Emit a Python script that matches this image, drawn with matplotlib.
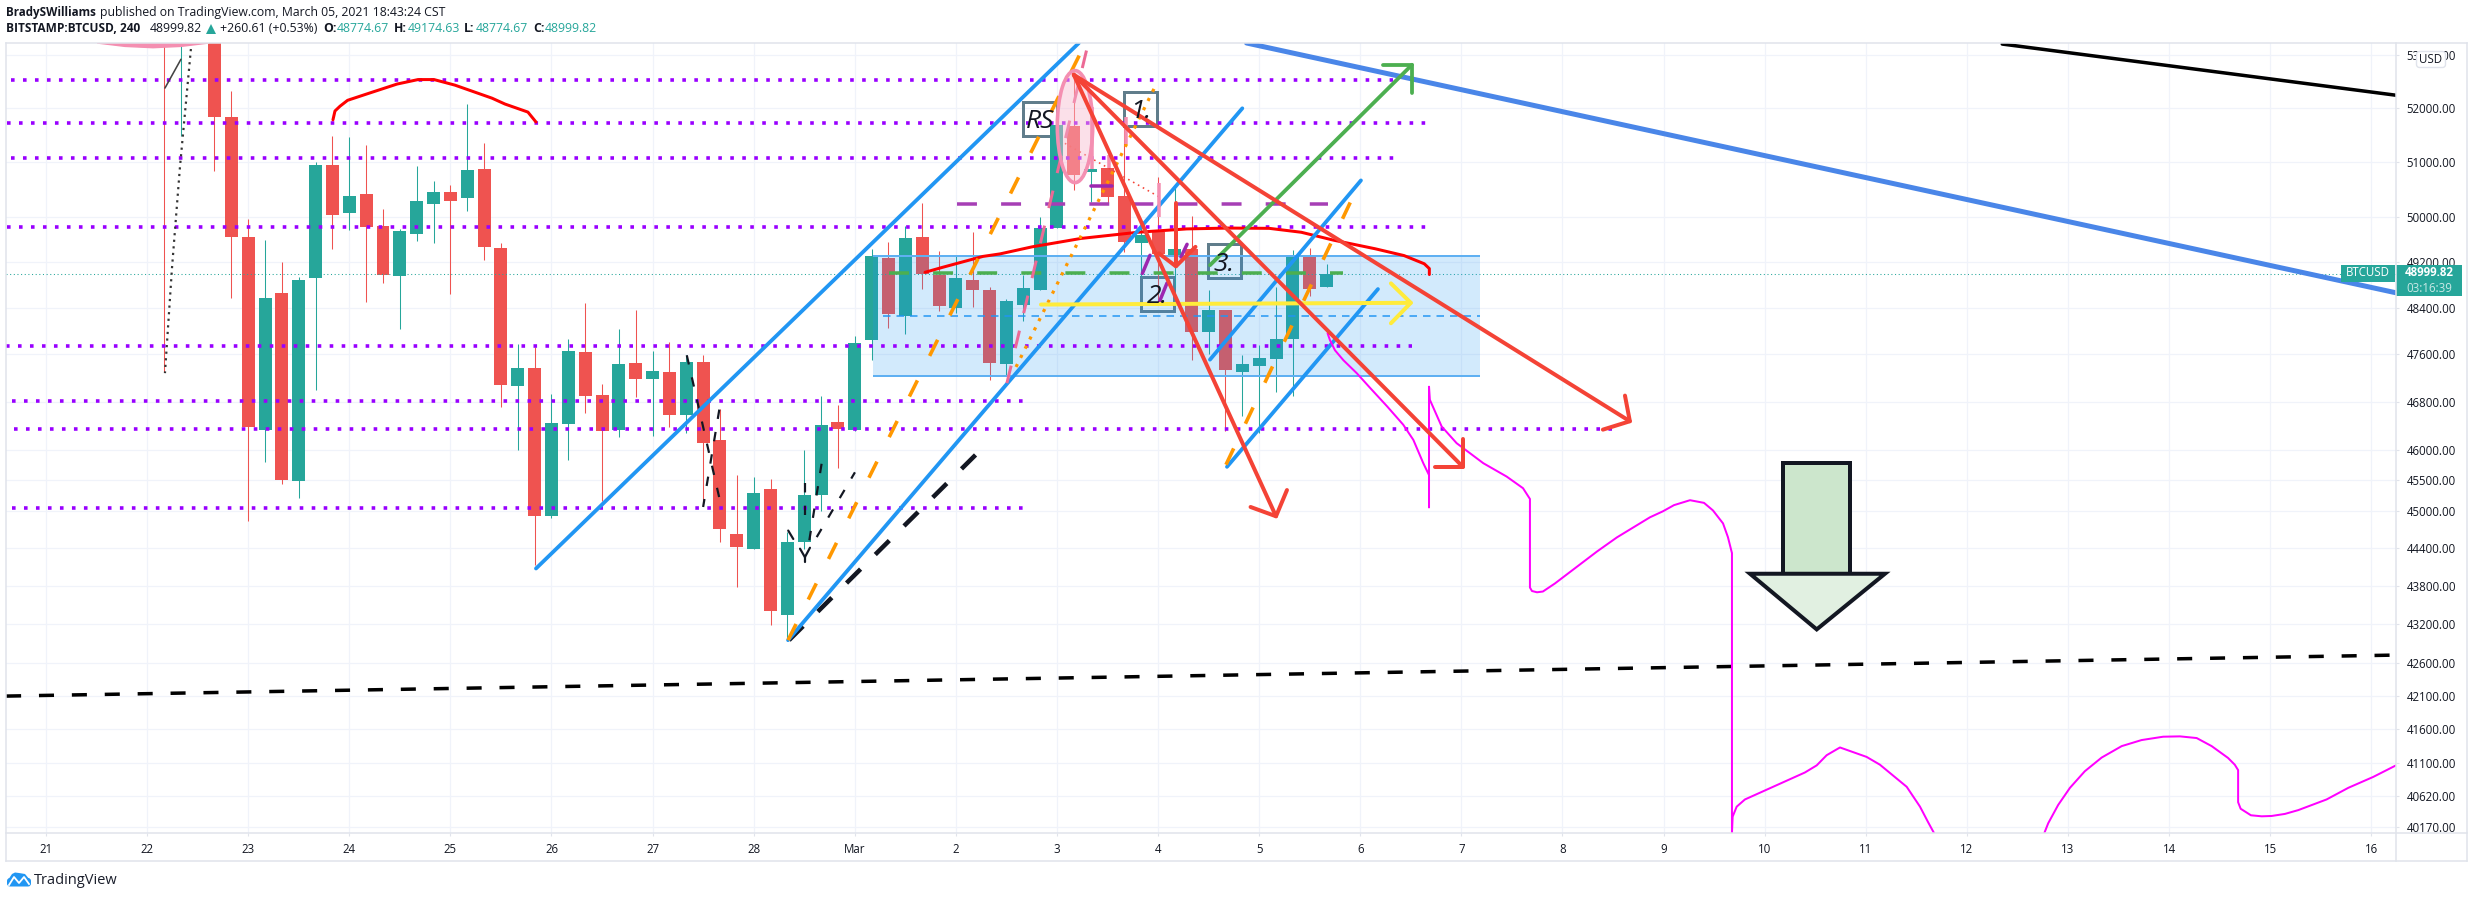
import matplotlib
matplotlib.use("Agg")
import matplotlib.pyplot as plt
from matplotlib.patches import Ellipse, FancyBboxPatch, Polygon, Rectangle
from matplotlib.ticker import NullLocator

plt.rcParams['font.family'] = ['Open Sans', 'DejaVu Sans']

W, H = 2468, 898
UP, DOWN = '#26a69a', '#ef5350'
INK = '#131722'
GRID = '#f0f3fa'
FRAME = '#e0e3eb'

# candles, 4h bars counted from 21 Feb 00:00 (6 a day)
first_bar = 7
opens = [53900, 53400, 53900, 53900, 51840, 49650, 46330, 48660, 45480, 48930, 50950, 50085, 50420, 49845,
         48960, 49705, 50240, 50455, 50350, 50880, 49450, 47065, 47370, 44920, 46430, 47635, 46910, 46330,
         47450, 47180, 47300, 46580, 47470, 46160, 44630, 44385, 45350, 43340, 44490, 45250, 46450, 46330,
         47850, 49285, 48265, 49645, 48985, 48395, 48890, 48720, 47430, 48445, 48720, 49810, 51670, 50820,
         50900, 50385, 49545, 49745, 49290, 49430, 47990, 48370, 47305, 47400, 47515, 47865, 49320, 48775]
highs = [54500, 54000, 54800, 54200, 52325, 49970, 49590, 49215, 48945, 51000, 51480, 51460, 51320, 50160,
         49790, 50930, 50660, 50580, 52080, 51365, 49535, 47785, 47720, 46930, 47860, 48480, 47090, 48030,
         48370, 47650, 47810, 47585, 47585, 46680, 45580, 45545, 45520, 44660, 46000, 46885, 46750, 47910,
         49440, 49560, 49845, 50265, 49410, 49305, 49745, 48770, 48555, 48985, 50010, 51800, 52680, 51290,
         51130, 51650, 49890, 50735, 50525, 50020, 48710, 48370, 47585, 47755, 48770, 49425, 49460, 49175]
lows = [47300, 51490, 53400, 50840, 48580, 44830, 45800, 45440, 45210, 47000, 49430, 49770, 48500, 48845,
        48040, 49580, 49550, 48650, 50120, 49235, 46710, 46000, 44135, 44890, 45830, 46600, 45165, 46200,
        46880, 46230, 46370, 46280, 45110, 44490, 43780, 44385, 43190, 42940, 44390, 45000, 45700, 46300,
        47500, 48050, 47945, 48740, 48350, 48320, 48420, 47160, 47250, 48180, 48710, 49810, 50495, 50280,
        50265, 49375, 48945, 48490, 48770, 47500, 47610, 46300, 46555, 46270, 46965, 46895, 48610, 48775]
closes = [53400, 53900, 54200, 51830, 49650, 46380, 48580, 45500, 48890, 50950, 50040, 50385, 49830, 48980,
          49755, 50295, 50455, 50295, 50860, 49475, 47080, 47370, 44910, 46440, 47650, 46895, 46310, 47435,
          47180, 47320, 46580, 47470, 46115, 44700, 44410, 45285, 43400, 44500, 45250, 46415, 46335, 47790,
          49305, 48300, 49630, 49000, 48430, 48930, 48710, 47450, 48525, 48750, 49810, 51690, 50760, 50880,
          50370, 49555, 49680, 49340, 49440, 47980, 48370, 47325, 47430, 47535, 47860, 49305, 48740, 49000]

price_ticks = [53000, 52000, 51000, 50000, 49200, 48400, 47600, 46800, 46000, 45500, 45000, 44400, 43800,
               43200, 42600, 42100, 41600, 41100, 40620, 40170]
day_ticks = [0, 6, 12, 18, 24, 30, 36, 42, 48, 54, 60, 66, 72, 78, 84, 90, 96, 102, 108, 114, 120, 126, 132, 138]
day_labels = ['21', '22', '23', '24', '25', '26', '27', '28', 'Mar', '2', '3', '4', '5', '6', '7', '8', '9',
              '10', '11', '12', '13', '14', '15', '16']

x_range = (-2.374, 139.47)
y_range = (40079, 53235)
last_price = 49000

# drawings: (price, first bar, last bar)
purple_levels = [(52525, -2.1, 79.95), (51728, -2.3, 82.0), (51085, -2.1, 80.05), (49830, -2.3, 82.0),
                 (47752, -2.4, 81.05), (46810, -2.0, 58.0), (46340, -1.9, 93.3), (45050, -2.0, 58.0)]
purple_dash = (50240, 54.05, 76.1)
green_dash = (49010, 50.05, 77.0)
zone_low, zone_high, zone_mid = 47240, 49305, 48265
zone_start, zone_end = 49.08, 85.1

blue_lines = [([29.08, 61.3], [44075, 53235]), ([44.04, 71.0], [42955, 52000]),
              ([69.08, 78.04], [47510, 50670]), ([70.09, 79.05], [45715, 48730])]
wide_blue_x, wide_blue_y = [71.25, 139.47], [53235, 48665]
black_x, black_y = [116.1, 139.47], [53215, 52245]
long_dash_x, long_dash_y = [-2.37, 139.47], [42100, 42725]
short_dash_x, short_dash_y = [44.1, 55.96], [42955, 46130]
orange_lines = [([44.04, 61.66], [42955, 53215]), ([70.03, 78.04], [45750, 50680])]
pink_dash_x, pink_dash_y = [57.03, 61.78], [47110, 53130]
orange_dot_x, orange_dot_y = [57.57, 65.92], [47385, 52470]
red_dot_x, red_dot_y = [60.47, 66.04], [51350, 50375]
thin_dashes = [([38.03, 40.1], [47585, 45040]), ([39.96, 39.0], [46665, 45060]), ([45.04, 45.04], [45450, 44925]),
               ([46.03, 45.3], [45765, 44520]), ([45.74, 48.01], [44575, 45625])]
thin_marks = [([44.05, 44.35], [44680, 44545]), ([44.75, 45.04, 45.34], [44390, 44255, 44405]),
              ([45.04, 45.04], [44255, 44175])]
corner_line_x, corner_line_y = [7.06, 8.01], [52380, 52925]
corner_dot_x, corner_dot_y = [8.6, 7.95, 7.48, 7.06], [53120, 50915, 49110, 47280]
corner_blob_x = [3.03, 4.69, 6.35, 8.01, 9.67]
corner_blob_y = [53235, 53170, 53145, 53170, 53235]

red_cap_x = [17.03, 17.15, 17.45, 17.9, 19, 20.83, 22.08, 23.03, 24.27, 26.47, 27.24, 28.6, 29.08]
red_cap_y = [51785, 51950, 52040, 52150, 52265, 52455, 52540, 52540, 52435, 52190, 52080, 51930, 51745]
red_arc_x = [52.17, 53.18, 55.6, 56.62, 58.52, 61.43, 64.8, 67.7, 70.2, 72.6, 74.5, 76.4, 78.9, 80.6, 81.8, 82.1, 82.1]
red_arc_y = [49025, 49110, 49305, 49350, 49475, 49625, 49735, 49795, 49810, 49805, 49735, 49595, 49440, 49320,
             49175, 49090, 48985]

apex = (61.0, 52630)
red_arrows = [((73.0, 44910), (71.49, 45060), (73.65, 45335)),
              ((84.09, 45715), (82.43, 45715), (84.09, 46180)),
              ((94.0, 46470), (93.71, 46900), (92.4, 46330))]
short_arrow_x, short_arrow_y = [67.06, 67.06], [50260, 49130]
short_head_x, short_head_y = [66.05, 67.06, 68.22], [49360, 49130, 49475]
green_x, green_y = [69.08, 81.07], [49150, 52820]
green_head_x, green_head_y = [79.35, 81.07, 81.07], [52820, 52820, 52290]
yellow_x, yellow_y = [59.05, 81.0], [48460, 48490]
yellow_head_x, yellow_head_y = [79.82, 81.0, 79.82], [48830, 48490, 48135]
purple_ticks = [([66.09, 66.53], [48515, 48835]), ([67.36, 67.72], [49295, 49520]), ([65.07, 65.52], [49005, 49325]),
                ([62.04, 63.26], [50575, 50575])]
pink_bars = [(62.07, 50880, 52030), (63.09, 50900, 51135), (64.08, 51340, 51840), (66.07, 50000, 50630),
             (67.06, 49120, 49560)]
ellipse_x, ellipse_y, ellipse_w, ellipse_h = 61.07, 51670, 2.1, 2080

magenta_a_x = [76.06, 76.2, 76.5, 77.0, 77.8, 78.6, 79.6, 80.55, 81.15, 81.74, 82.08, 82.08, 82.08, 82.13, 82.83,
               83.72, 85.3, 86.69, 87.66, 88.07, 88.07, 88.19, 88.49, 88.84, 89.55, 92.05, 93.23, 95.19, 95.96,
               96.62, 97.57, 98.4, 98.93, 99.53, 99.82, 100.06, 100.06, 100.1, 100.34, 100.83, 104.39, 105.09,
               105.68, 106.47, 108.05, 108.84, 110.43, 111.22, 111.69, 112.05]
magenta_a_y = [47962, 47845, 47670, 47500, 47277, 47025, 46717, 46412, 46160, 45775, 45580, 45055, 47050, 46830,
               46383, 46105, 45775, 45555, 45365, 45190, 43775, 43720, 43700, 43712, 43838, 44345, 44570, 44893,
               44990, 45090, 45170, 45127, 45005, 44795, 44575, 44320, 40079, 40315, 40460, 40565, 40960, 41065,
               41215, 41330, 41190, 41075, 40750, 40460, 40240, 40079]
magenta_b_x = [118.6, 118.83, 119.42, 120.12, 121.0, 122.0, 123.19, 124.37, 125.65, 126.65, 127.64, 128.53, 129.5,
               129.9, 130.1, 130.1, 130.25, 130.86, 131.5, 132.09, 132.88, 133.67, 135.35, 136.64, 138.12, 139.47]
magenta_b_y = [40079, 40220, 40485, 40735, 40978, 41180, 41350, 41440, 41490, 41495, 41470, 41350, 41175, 41075,
               40995, 40525, 40430, 40335, 40320, 40325, 40355, 40410, 40565, 40735, 40895, 41065]

# note boxes: text, first bar, last bar, low, high
notes = [('RS', 57.98, 60.0, 51490, 52125), ('1.', 63.98, 65.95, 51670, 52315),
         ('2.', 64.98, 66.94, 48355, 48945), ('3.', 68.96, 70.92, 48930, 49520)]

# big down arrow
down_shaft_x, down_shaft_y = [103.07, 107.07], [45776, 43992]
down_head_x, down_head_y = [101.13, 109.14, 105.09], [43992, 43992, 43121]


def px(v):
    return v * 0.72


def line(ax, xs, ys, color, width, dash=None, z=4, **kw):
    style = '-' if dash is None else (0, dash)
    ax.plot(xs, ys, color=color, linewidth=px(width), linestyle=style, zorder=z,
            dash_capstyle='butt', solid_capstyle='round', solid_joinstyle='round', **kw)


fig = plt.figure(figsize=(W / 100, H / 100), dpi=100, facecolor='white')
ax = fig.add_axes([6 / W, (H - 833) / H, 2390 / W, 790 / H])
ax.set_yscale('log')
ax.set_xlim(*x_range)
ax.set_ylim(*y_range)
ax.yaxis.tick_right()
ax.set_yticks(price_ticks)
ax.set_yticklabels([f'{p:.2f}' for p in price_ticks])
ax.yaxis.set_minor_locator(NullLocator())
ax.set_xticks(day_ticks)
ax.set_xticklabels(day_labels)
ax.tick_params(axis='both', length=2.5, width=0.8, color=FRAME, labelsize=8.3, labelcolor=INK, pad=5)
ax.grid(True, color=GRID, linewidth=0.9)
ax.set_axisbelow(True)
for s in ax.spines.values():
    s.set_visible(False)

# candles
bars = list(range(first_bar, first_bar + len(opens)))
colors = [UP if c >= o else DOWN for o, c in zip(opens, closes)]
ax.vlines(bars, lows, highs, colors=colors, linewidth=0.75, zorder=2)
ax.bar(bars, [abs(c - o) for o, c in zip(opens, closes)], bottom=[min(o, c) for o, c in zip(opens, closes)],
       width=0.77, color=colors, linewidth=0, zorder=2.1)

ax.axhline(last_price, color=UP, linewidth=0.75, linestyle=(0, (1, 2.5)), zorder=2.2)

# note boxes sit under the candles, their text over everything
for text, x0, x1, lo, hi in notes:
    ax.add_patch(Rectangle((x0, lo), x1 - x0, hi - lo, fill=False, edgecolor='#607d8b', linewidth=px(3), zorder=1.5))
    ax.text((x0 + x1) / 2, (lo * hi) ** 0.5, text, fontsize=19, style='italic', color=INK, ha='center',
            va='center_baseline', zorder=9)

# zone
ax.add_patch(Rectangle((zone_start, zone_low), zone_end - zone_start, zone_high - zone_low,
                       facecolor='#2196f3', alpha=0.2, linewidth=0, zorder=3))
ax.hlines([zone_low, zone_high], zone_start, zone_end, colors='#5fb0f2', linewidth=px(2), zorder=3.1)
line(ax, [zone_start + 0.6, zone_end], [zone_mid, zone_mid], '#2196f3', 1.5, (5, 4), z=3.1)

for price, x0, x1 in purple_levels:
    line(ax, [x0, x1], [price, price], '#9900ff', 3.6, (1, 2.33), z=3.4)
line(ax, purple_dash[1:], [purple_dash[0]] * 2, '#a63fb5', 3.5, (5.7, 6.9))
line(ax, green_dash[1:], [green_dash[0]] * 2, '#4caf50', 3.5, (5.7, 6.9))

line(ax, wide_blue_x, wide_blue_y, '#4a86e8', 5)
line(ax, black_x, black_y, 'black', 3.5)
line(ax, long_dash_x, long_dash_y, 'black', 3.5, (4.3, 5.1))
line(ax, short_dash_x, short_dash_y, INK, 4.5, (4.4, 4.6))
for xs, ys in thin_dashes:
    line(ax, xs, ys, INK, 2.2, (4.3, 6))
for xs, ys in thin_marks:
    line(ax, xs, ys, INK, 2.2)
line(ax, corner_line_x, corner_line_y, '#444444', 1.6)
line(ax, corner_dot_x, corner_dot_y, '#333333', 2.2, (1, 2))
ax.fill(corner_blob_x, corner_blob_y, color='#f48fb1', zorder=4)

for xs, ys in blue_lines:
    line(ax, xs, ys, '#2196f3', 3.8, z=4.2)
for xs, ys in orange_lines:
    line(ax, xs, ys, '#ff9800', 3.6, (5, 7.6), z=4.3)
line(ax, pink_dash_x, pink_dash_y, '#ec6a95', 3, (6, 6), z=4.3)
line(ax, orange_dot_x, orange_dot_y, '#ff9800', 3.2, (1, 2.2), z=4.3)
line(ax, red_dot_x, red_dot_y, '#f44336', 1.6, (1, 2.5), z=4.3)

line(ax, red_cap_x, red_cap_y, '#ff0000', 3)
line(ax, red_arc_x, red_arc_y, '#ff0000', 3)

ax.add_patch(Ellipse((ellipse_x, ellipse_y), ellipse_w, ellipse_h, facecolor='#f8bbd0', edgecolor='#f48fb1',
                     alpha=0.45, linewidth=0, zorder=4.4))
ax.add_patch(Ellipse((ellipse_x, ellipse_y), ellipse_w, ellipse_h, fill=False, edgecolor='#f48fb1',
                     linewidth=px(3.6), zorder=4.5))
for x0, lo, hi in pink_bars:
    ax.vlines(x0, lo, hi, colors='#f48fb1', linewidth=px(3.5), zorder=4.5)

for xs, ys in purple_ticks:
    line(ax, xs, ys, '#9c27b0', 3.5, z=4.6)

line(ax, green_x, green_y, '#4caf50', 3.8, z=4.7)
line(ax, green_head_x, green_head_y, '#4caf50', 3.8, z=4.7)
line(ax, yellow_x, yellow_y, '#ffeb3b', 4, z=4.7)
line(ax, yellow_head_x, yellow_head_y, '#ffeb3b', 4, z=4.7)

line(ax, magenta_a_x, magenta_a_y, '#ff00ff', 2, z=4.8)
line(ax, magenta_b_x, magenta_b_y, '#ff00ff', 2, z=4.8)

for tip, head_a, head_b in red_arrows:
    line(ax, [apex[0], tip[0]], [apex[1], tip[1]], '#f44336', 4, z=5)
    line(ax, [head_a[0], tip[0], head_b[0]], [head_a[1], tip[1], head_b[1]], '#f44336', 4, z=5)
line(ax, short_arrow_x, short_arrow_y, '#f44336', 4, z=5)
line(ax, short_head_x, short_head_y, '#f44336', 4, z=5)

ax.fill(down_shaft_x[:1] * 2 + down_shaft_x[1:] * 2, down_shaft_y + down_shaft_y[::-1], facecolor='#cce6cc',
        edgecolor=INK, linewidth=px(4), zorder=5, joinstyle='miter')
ax.fill(down_head_x, down_head_y, facecolor='#e1f0e1', edgecolor=INK, linewidth=px(4), zorder=5.1, joinstyle='miter')

# page chrome in image pixels, drawn over the chart
top = fig.add_axes([0, 0, 1, 1], zorder=5)
top.set_xlim(0, W)
top.set_ylim(H, 0)
top.axis('off')
top.patch.set_alpha(0)
for xs, ys in [([6, 2467], [43, 43]), ([6, 2467], [833, 833]), ([6, 2467], [861, 861]), ([6, 6], [43, 861]),
               ([2396, 2396], [43, 861]), ([2467, 2467], [43, 861])]:
    top.plot(xs, ys, color=FRAME, linewidth=1.1)


def write(x, y, s, weight='normal', color=INK, size=8.8, ha='left', alpha=1):
    top.text(x, y, s, fontsize=size, fontweight=weight, color=color, ha=ha, va='center', alpha=alpha)


write(6, 12.7, 'BradySWilliams', weight='bold', size=8.4)
write(100, 12.7, 'published on TradingView.com, March 05, 2021 18:43:24 CST')
write(6, 29, 'BITSTAMP:BTCUSD, 240', weight='bold', size=8.6)
write(150, 29, '48999.82')
top.add_patch(Polygon([[206, 34], [216, 34], [211, 24]], closed=True, color=UP, linewidth=0))
write(220, 29, '+260.61 (+0.53%)')
for x_key, key, x_val, val in [(323, 'O:', 337, '48774.67'), (394, 'H:', 408, '49174.63'),
                               (464, 'L:', 476, '48774.67'), (533, 'C:', 545, '48999.82')]:
    write(x_key, 29, key, weight='bold')
    write(x_val, 29, val, color=UP)

# USD badge and last price tags
top.add_patch(FancyBboxPatch((2416.5, 51.5), 29, 16, boxstyle='round,pad=0,rounding_size=3', facecolor='white',
                             edgecolor=FRAME, linewidth=1))
write(2431, 59.5, 'USD', size=8.3, ha='center')
top.add_patch(Rectangle((2396, 265), 66, 31, color=UP, linewidth=0))
top.add_patch(Rectangle((2341, 265), 53.5, 16.7, color=UP, linewidth=0))
write(2429, 273, '48999.82', weight='bold', color='white', size=8.3, ha='center')
write(2429, 288, '03:16:39', color='white', size=8.3, ha='center', alpha=0.75)
write(2368, 273, 'BTCUSD', color='white', size=8.3, ha='center')

# TradingView logo
top.add_patch(FancyBboxPatch((7, 878), 24, 8.5, boxstyle='round,pad=0,rounding_size=3', color='#2196f3', linewidth=0))
top.add_patch(Polygon([[8, 880], [12, 874], [15, 872.5], [19, 873], [25, 874], [30, 880]], closed=True,
                      color='#2196f3', linewidth=0))
top.plot([9, 14, 19, 24, 29], [885, 877, 883, 877, 884], color='white', linewidth=1.3)
write(34, 880, 'TradingView', size=10.5, color='#1a1e2b')

fig.savefig('out.png', dpi=100, facecolor='white')
